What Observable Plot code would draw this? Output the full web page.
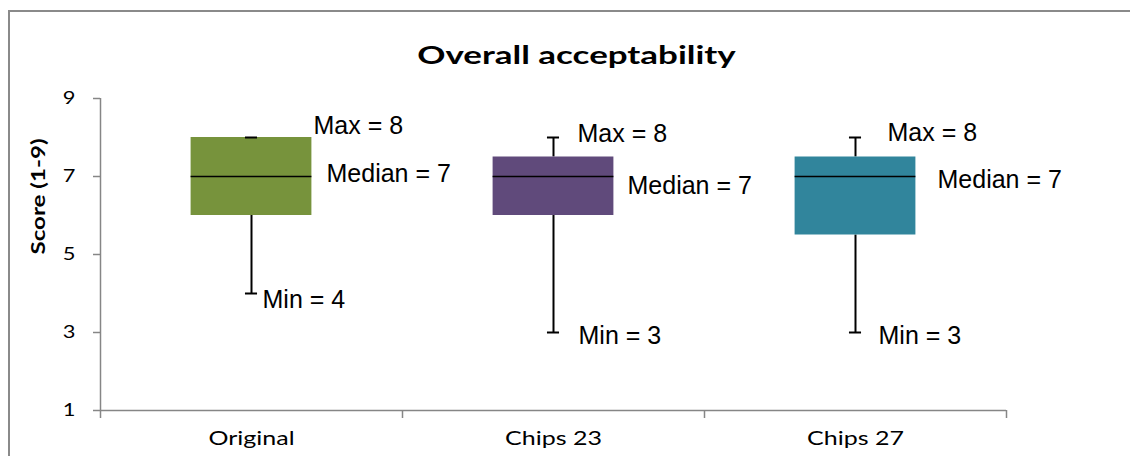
<!DOCTYPE html>
<html>
<head>
<meta charset="utf-8">
<script src="https://cdn.jsdelivr.net/npm/d3@7"></script>
<script src="https://cdn.jsdelivr.net/npm/@observablehq/plot@0.6"></script>
<style>
  html, body { margin: 0; padding: 0; background: #fff; }
  #chart { position: relative; width: 1130px; height: 456px; overflow: hidden; background: #fff; }
  #chart .border {
    position: absolute; left: 8px; top: 10px; width: 1300px; height: 700px;
    border: 2px solid #8a8a8a; box-sizing: border-box;
  }
  #chart svg { position: absolute; left: 0; top: 0; }
</style>
</head>
<body>
<div id="chart"><div class="border"></div></div>
<script>
// Overall acceptability scores (1-9 scale), five-number summary per sample
const chartTitle = "Overall acceptability";
const yLabel = "Score (1-9)";
const categories = ["Original", "Chips 23", "Chips 27"];
const minimum   = [4, 3, 3];
const quartile1 = [6, 6, 5.5];
const median    = [7, 7, 7];
const quartile3 = [8, 7.5, 7.5];
const maximum   = [8, 8, 8];
const yTicks = [1, 3, 5, 7, 9];

// Styling
const boxColors = ["#77933C", "#604A7B", "#31859C"];
const axisGray = "#868686";
const boxHalf = 0.2;    // half box width, in category units
const capHalf = 0.02;   // half whisker-cap width
// Pixel nudges [dx, dy] for the value labels beside each box
const labelNudge = {
  max:    [[62, -4], [24, 4], [32, 3]],
  median: [[75, 5], [74, 17], [82, 11]],
  min:    [[11, 14], [25, 11], [23, 11]]
};
// Horizontal widening applied to the Lato texts (along the text direction)
const textWiden = new Map([
  [chartTitle, 1.37],
  [yLabel, 1.27],
  ...categories.map(c => [c, 1.25]),
  ...yTicks.map(t => [String(t), 1.25])
]);

const idx = categories.map((_, i) => i);
const cx = i => i + 0.5;
const valueFont = {fontFamily: "Liberation Sans", fontSize: 25, fill: "#000", textAnchor: "start", lineAnchor: "bottom"};

const labelMarks = [];
for (const i of idx) {
  const groups = [
    ["max", maximum, "Max"],
    ["median", median, "Median"],
    ["min", minimum, "Min"]
  ];
  for (const [key, values, name] of groups) {
    const [dx, dy] = labelNudge[key][i];
    labelMarks.push(Plot.text([i], {
      x: cx, y: () => values[i], text: () => `${name} = ${values[i]}`,
      dx, dy, ...valueFont
    }));
  }
}

const chart = Plot.plot({
  width: 1130,
  height: 456,
  marginLeft: 100,
  marginRight: 124,
  marginTop: 98,
  marginBottom: 46,
  x: {type: "linear", domain: [0, 3]},
  y: {domain: [1, 9]},
  color: {type: "identity"},
  style: {background: "transparent", fontFamily: "Liberation Sans", overflow: "visible"},
  marks: [
    // axes
    Plot.ruleX([0], {y1: 1, y2: 9, stroke: axisGray, strokeWidth: 1.5}),
    Plot.ruleY([1], {x1: 0, x2: 3, stroke: axisGray, strokeWidth: 1.5}),
    Plot.axisY(yTicks, {tickSize: 7, tickFormat: () => "", stroke: axisGray, strokeWidth: 1.5, label: null}),
    Plot.text(yTicks, {y: d => d, text: d => String(d), frameAnchor: "left", textAnchor: "end", dx: -25,
      fontFamily: "Lato", fontSize: 17.5, fill: "#000"}),
    Plot.axisX([0, 1, 2, 3], {tickSize: 8, tickFormat: () => "", stroke: axisGray, strokeWidth: 1.5, label: null}),
    Plot.axisX(idx.map(cx), {tickSize: 0, tickPadding: 20, tickFormat: d => categories[Math.floor(d)],
      fill: "#000", fontFamily: "Lato", fontSize: 20, label: null}),
    Plot.text([yLabel], {frameAnchor: "left", rotate: -90, dx: -62, fontFamily: "Lato", fontWeight: "bold",
      fontSize: 19, fill: "#000"}),
    Plot.text([chartTitle], {frameAnchor: "top", lineAnchor: "bottom", dx: 23, dy: -35, fontFamily: "Lato",
      fontWeight: "bold", fontSize: 25.5, fill: "#000"}),
    // whiskers
    Plot.ruleX(idx, {x: cx, y1: i => minimum[i], y2: i => quartile1[i], stroke: "#000", strokeWidth: 2}),
    Plot.ruleX(idx, {x: cx, y1: i => quartile3[i], y2: i => maximum[i], stroke: "#000", strokeWidth: 2}),
    // boxes
    Plot.rect(idx, {x1: i => cx(i) - boxHalf, x2: i => cx(i) + boxHalf, y1: i => quartile1[i], y2: i => quartile3[i],
      fill: i => boxColors[i]}),
    // medians
    Plot.ruleY(idx, {y: i => median[i], x1: i => cx(i) - boxHalf, x2: i => cx(i) + boxHalf, stroke: "#000", strokeWidth: 1.5}),
    // whisker caps
    Plot.ruleY(idx, {y: i => maximum[i], x1: i => cx(i) - capHalf, x2: i => cx(i) + capHalf, stroke: "#000", strokeWidth: 2}),
    Plot.ruleY(idx, {y: i => minimum[i], x1: i => cx(i) - capHalf, x2: i => cx(i) + capHalf, stroke: "#000", strokeWidth: 2}),
    ...labelMarks
  ]
});

// Widen the Lato texts along their own direction
d3.select(chart).selectAll("text").each(function() {
  const k = textWiden.get(this.textContent);
  if (k) {
    const t = this.getAttribute("transform") || "";
    this.setAttribute("transform", `${t} scale(${k},1)`);
  }
});

document.getElementById("chart").appendChild(chart);
</script>
</body>
</html>
